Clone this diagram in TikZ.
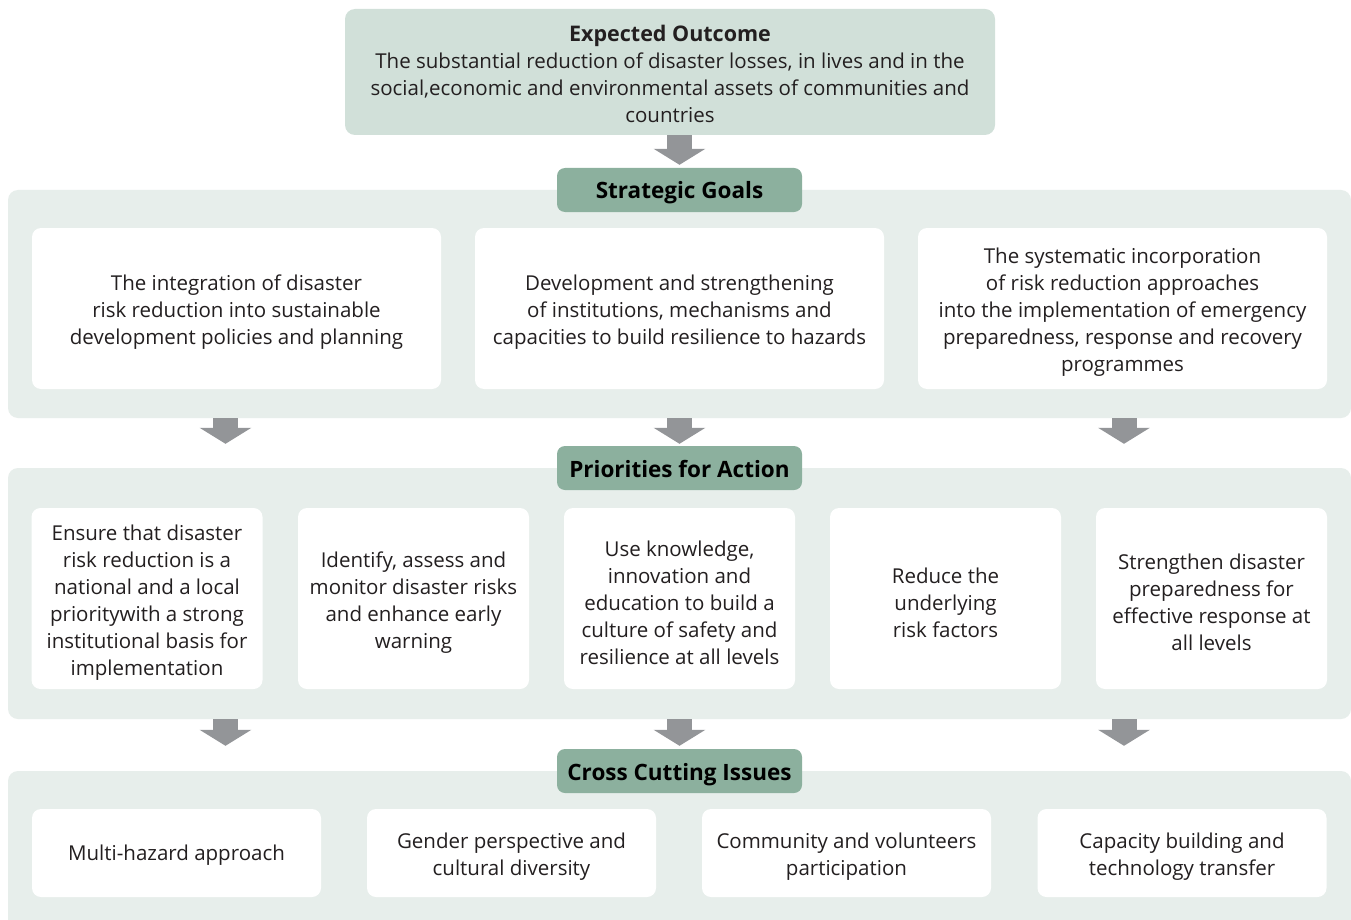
\documentclass[tikz,border=0pt]{standalone}
\usepackage{fontspec}
\setmainfont{Open Sans}
\usetikzlibrary{arrows.meta}
\definecolor{outcomefill}{HTML}{D1E0D9}
\definecolor{headfill}{HTML}{8CB09E}
\definecolor{panelfill}{HTML}{E7EEEB}
\definecolor{arrowgray}{HTML}{939598}
\definecolor{textdark}{HTML}{231F20}
\tikzset{
  txt/.style={font=\fontsize{20.5}{27}\selectfont, text=textdark, align=center, inner sep=0pt},
  outcome/.style={fill=outcomefill, rounded corners=10pt, minimum width=650pt, minimum height=126pt},
  headlabel/.style={txt, font=\fontsize{22.5}{27}\selectfont\bfseries, text=black, fill=headfill, rounded corners=8pt, minimum width=245pt, minimum height=44pt, text height=18pt, text depth=0pt},
  panel/.style={fill=panelfill, rounded corners=10pt, inner sep=0pt, minimum width=1343pt},
  itembox/.style={fill=white, rounded corners=9pt, inner sep=0pt},
  bigarrow/.style={arrowgray, line width=25pt, -{Triangle[width=51pt,length=16pt]}}
}
\begin{document}
\begin{tikzpicture}[x=1pt,y=-1pt]
\useasboundingbox[fill=white] (0,0) rectangle (1351,920);
\coordinate (colL) at (225.5,0);
\coordinate (colM) at (679.5,0);
\coordinate (colR) at (1124,0);
\node[outcome] (outcome) at (670,72) {};
\node[txt] (outcometext) at ([yshift=-2pt]outcome.center) {{\bfseries\fontsize{21.5}{27}\selectfont Expected Outcome}\\The substantial reduction of disaster losses, in lives and in the\\social,economic and environmental assets of communities and\\countries};
\node[panel, minimum height=228pt] (panelgoals) at (679.5,304) {};
\node[panel, minimum height=251pt] (panelprio) at (679.5,593.5) {};
\node[panel, minimum height=166pt] (panelcross) at (679.5,854) {};
\node[headlabel] (goals) at (679.5,190) {Strategic Goals};
\node[headlabel] (prio) at (679.5,468) {Priorities for Action};
\node[headlabel] (cross) at (679.5,771) {Cross Cutting Issues};
\node[itembox, minimum width=409pt, minimum height=161pt] (goal1) at (236.5,308.5) {};
\node[itembox, minimum width=409pt, minimum height=161pt] (goal2) at (679.5,308.5) {};
\node[itembox, minimum width=409pt, minimum height=161pt] (goal3) at (1122.5,308.5) {};
\node[txt] (goal1text) at ([yshift=-4pt]goal1.center) {The integration of disaster\\risk reduction into sustainable\\development policies and planning};
\node[txt] (goal2text) at ([yshift=-4pt]goal2.center) {Development and strengthening\\of institutions, mechanisms and\\capacities to build resilience to hazards};
\node[txt] (goal3text) at ([yshift=-4pt]goal3.center) {The systematic incorporation\\of risk reduction approaches\\into the implementation of emergency\\preparedness, response and recovery\\programmes};
\node[itembox, minimum width=231pt, minimum height=181pt] (prio1) at (147,598.5) {};
\node[itembox, minimum width=231pt, minimum height=181pt] (prio2) at (413.5,598.5) {};
\node[itembox, minimum width=231pt, minimum height=181pt] (prio3) at (679.5,598.5) {};
\node[itembox, minimum width=231pt, minimum height=181pt] (prio4) at (945.5,598.5) {};
\node[itembox, minimum width=231pt, minimum height=181pt] (prio5) at (1211.5,598.5) {};
\node[txt] (prio1text) at ([yshift=-4pt]prio1.center) {Ensure that disaster\\risk reduction is a\\national and a local\\prioritywith a strong\\institutional basis for\\implementation};
\node[txt] (prio2text) at ([yshift=-4pt]prio2.center) {Identify, assess and\\monitor disaster risks\\and enhance early\\warning};
\node[txt] (prio3text) at ([yshift=-4pt]prio3.center) {Use knowledge,\\innovation and\\education to build a\\culture of safety and\\resilience at all levels};
\node[txt] (prio4text) at ([yshift=-4pt]prio4.center) {Reduce the\\underlying\\risk factors};
\node[txt] (prio5text) at ([yshift=-4pt]prio5.center) {Strengthen disaster\\preparedness for\\effective response at\\all levels};
\node[itembox, minimum width=289pt, minimum height=88pt] (cross1) at (176.5,853) {};
\node[itembox, minimum width=289pt, minimum height=88pt] (cross2) at (511.5,853) {};
\node[itembox, minimum width=289pt, minimum height=88pt] (cross3) at (846.5,853) {};
\node[itembox, minimum width=289pt, minimum height=88pt] (cross4) at (1182,853) {};
\node[txt] (cross1text) at ([yshift=-2pt]cross1.center) {Multi-hazard approach};
\node[txt] (cross2text) at ([yshift=-4pt]cross2.center) {Gender perspective and\\cultural diversity};
\node[txt] (cross3text) at ([yshift=-4pt]cross3.center) {Community and volunteers\\participation};
\node[txt] (cross4text) at ([yshift=-4pt]cross4.center) {Capacity building and\\technology transfer};
\draw[bigarrow] (outcome.south -| colM) -- ([yshift=3pt]goals.north -| colM);
\draw[bigarrow] (panelgoals.south -| colL) -- ([yshift=2pt]prio.north -| colL);
\draw[bigarrow] (panelgoals.south -| colM) -- ([yshift=2pt]prio.north -| colM);
\draw[bigarrow] (panelgoals.south -| colR) -- ([yshift=2pt]prio.north -| colR);
\draw[bigarrow] (panelprio.south -| colL) -- ([yshift=3pt]cross.north -| colL);
\draw[bigarrow] (panelprio.south -| colM) -- ([yshift=3pt]cross.north -| colM);
\draw[bigarrow] (panelprio.south -| colR) -- ([yshift=3pt]cross.north -| colR);
\end{tikzpicture}
\end{document}
